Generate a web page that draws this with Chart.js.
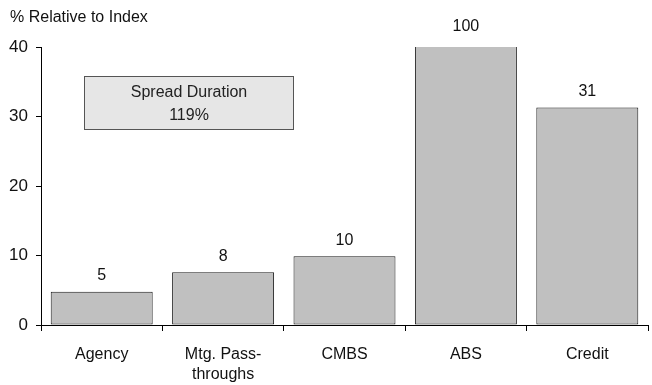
<!DOCTYPE html>
<html>
<head>
<meta charset="utf-8">
<script src="https://cdn.jsdelivr.net/npm/chart.js@4.4.1/dist/chart.umd.min.js"></script>
<style>
  html, body { margin: 0; padding: 0; background: #fff; }
  #wrap { width: 652px; height: 385px; position: relative; }
</style>
</head>
<body>
<div id="wrap"><canvas id="c" width="652" height="385"></canvas></div>
<script>
const categories = ["Agency", ["Mtg. Pass-", "throughs"], "CMBS", "ABS", "Credit"];
const values = [4.8, 7.6, 9.9, 100, 31.3];
const valueLabels = ["5", "8", "10", "100", "31"];
const yTicks = [0, 10, 20, 30, 40];
const axisTitle = "% Relative to Index";
const boxLines = ["Spread Duration", "119%"];
const Y_MAX = 40;

const FONT = "'Liberation Sans', Arial, sans-serif";

const overlay = {
  id: 'overlay',
  afterDatasetsDraw(chart) {
    const ctx = chart.ctx;
    const area = chart.chartArea;
    const meta = chart.getDatasetMeta(0);
    ctx.save();
    ctx.fillStyle = '#111';
    ctx.font = '16px ' + FONT;
    ctx.textAlign = 'center';
    ctx.textBaseline = 'bottom';
    meta.data.forEach((bar, i) => {
      const clipped = bar.y < area.top;
      const top = clipped ? area.top - 4 : bar.y;
      ctx.fillText(valueLabels[i], bar.x, top - 8);
    });
    // axis title
    ctx.textAlign = 'left';
    ctx.textBaseline = 'middle';
    ctx.fillText(axisTitle, 10, 18);
    // annotation box
    const bx = area.left + 43, by = area.top + 29, bw = 210, bh = 54;
    ctx.fillStyle = '#e6e6e6';
    ctx.fillRect(bx, by, bw, bh);
    ctx.strokeStyle = '#555';
    ctx.lineWidth = 1;
    ctx.strokeRect(bx + 0.5, by + 0.5, bw - 1, bh - 1);
    ctx.fillStyle = '#222';
    ctx.textAlign = 'center';
    ctx.fillText(boxLines[0], bx + bw / 2, by + 17);
    ctx.fillText(boxLines[1], bx + bw / 2, by + 40);
    ctx.restore();
  }
};

new Chart(document.getElementById('c'), {
  type: 'bar',
  data: {
    labels: categories,
    datasets: [{
      data: values,
      backgroundColor: '#c0c0c0',
      borderColor: '#1a1a1a',
      borderWidth: 1,
      borderSkipped: (c) => (values[c.dataIndex] > Y_MAX ? 'top' : false),
      categoryPercentage: 0.84,
      barPercentage: 1.0
    }]
  },
  options: {
    responsive: false,
    animation: false,
    devicePixelRatio: 1,
    layout: { padding: { top: 47, right: 4, left: 0, bottom: 0 } },
    plugins: { legend: { display: false }, tooltip: { enabled: false } },
    scales: {
      x: {
        offset: true,
        grid: { display: true, drawOnChartArea: false, drawTicks: true, tickLength: 6, color: '#000', offset: true },
        border: { display: true, color: '#000', width: 1 },
        ticks: { color: '#111', font: { family: FONT, size: 16, lineHeight: 1.25 }, padding: 14, maxRotation: 0, autoSkip: false },
        afterFit(scale) { scale.height = 60; }
      },
      y: {
        min: 0, max: Y_MAX,
        afterBuildTicks(scale) { scale.ticks = yTicks.map(v => ({ value: v })); },
        grid: { display: true, drawOnChartArea: false, drawTicks: true, tickLength: 5, color: '#000' },
        border: { display: true, color: '#000', width: 1 },
        ticks: { color: '#111', font: { family: FONT, size: 17 }, padding: 8 },
        afterFit(scale) { scale.width = 41; }
      }
    }
  },
  plugins: [overlay]
});
</script>
</body>
</html>
